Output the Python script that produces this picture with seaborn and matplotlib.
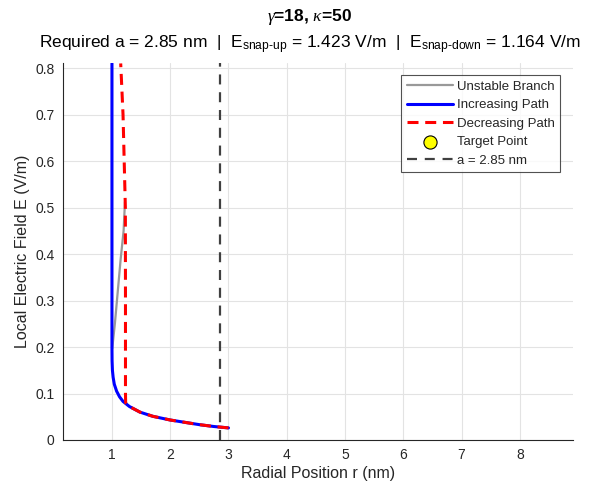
import matplotlib
matplotlib.use("Agg")
import matplotlib.pyplot as plt
import seaborn as sns
import pandas as pd

sns.set_theme(style="white")
plt.rcParams["font.family"] = ["Liberation Sans", "DejaVu Sans"]
plt.rcParams["mathtext.fontset"] = "custom"
plt.rcParams["mathtext.rm"] = "Liberation Sans"
plt.rcParams["mathtext.it"] = "Liberation Serif:italic"
plt.rcParams["mathtext.bf"] = "Liberation Sans:bold"

# Increasing field path (stable lower branch, then jump)
inc_r = [1.0, 1.0, 1.0, 1.002, 1.008, 1.02, 1.04, 1.08, 1.13, 1.19, 1.3, 1.48, 1.7, 2.0, 2.25, 2.5, 2.75, 3.0]
inc_E = [0.81, 0.5, 0.2, 0.17, 0.15, 0.135, 0.12, 0.105, 0.093, 0.083, 0.072, 0.060, 0.051, 0.043, 0.038, 0.033, 0.029, 0.026]

# Decreasing field path
dec_r = [3.0, 2.75, 2.5, 2.25, 2.0, 1.7, 1.48, 1.3, 1.235, 1.232, 1.232, 1.23, 1.21, 1.19, 1.15]
dec_E = [0.026, 0.029, 0.033, 0.038, 0.043, 0.051, 0.060, 0.072, 0.08, 0.1, 0.3, 0.5, 0.6, 0.7, 0.81]

# Unstable branch
uns_r = [1.005, 1.05, 1.10, 1.15, 1.20, 1.223]
uns_E = [0.197, 0.25, 0.32, 0.39, 0.45, 0.512]

# Required radius and target point
a_req = 2.85
target_r = [2.85]
target_E = [1.3]

xticks = [1, 2, 3, 4, 5, 6, 7, 8]
yticks = [0, 0.1, 0.2, 0.3, 0.4, 0.5, 0.6, 0.7, 0.8]

fig = plt.figure(figsize=(6.03, 4.92), dpi=100)
ax = fig.add_axes([0.1045, 0.1057, 0.8455, 0.7663])

dark = "#262626"

sns.lineplot(data=pd.DataFrame({"r": uns_r, "E": uns_E}), x="r", y="E", sort=False,
             estimator=None, ax=ax, color="#999999", lw=1.6, label="Unstable Branch")
sns.lineplot(data=pd.DataFrame({"r": inc_r, "E": inc_E}), x="r", y="E", sort=False,
             estimator=None, ax=ax, color="#0000ff", lw=2.2, label="Increasing Path")
sns.lineplot(data=pd.DataFrame({"r": dec_r, "E": dec_E}), x="r", y="E", sort=False,
             estimator=None, ax=ax, color="#ff0000", lw=2.2, label="Decreasing Path")
ax.lines[-1].set_linestyle((0, (3.6, 2.2)))
sns.scatterplot(x=target_r, y=target_E, ax=ax, s=90, color="#ffff00",
                edgecolor="black", linewidth=0.8, label="Target Point", zorder=5)
ax.axvline(a_req, color="#404040", lw=1.6, ls=(0, (4.5, 3.5)), label=f"a = {a_req} nm")

ax.set_xlim(0.16, 8.91)
ax.set_ylim(0, 0.811)
ax.set_xticks(xticks)
ax.set_xticklabels([str(t) for t in xticks])
ax.set_yticks(yticks)
ax.set_yticklabels(["0"] + [f"{t:.1f}" for t in yticks[1:]])
ax.grid(True, color="#e3e3e3", lw=0.8)
ax.set_axisbelow(True)

for side in ["top", "right"]:
    ax.spines[side].set_visible(False)
for side in ["left", "bottom"]:
    ax.spines[side].set_color(dark)
    ax.spines[side].set_linewidth(0.8)
ax.tick_params(direction="in", length=4, width=0.8, colors=dark, labelsize=10, pad=6)

ax.set_xlabel("Radial Position r (nm)", fontsize=11.5, color=dark, labelpad=3)
ax.set_ylabel("Local Electric Field E (V/m)", fontsize=11.5, color=dark, labelpad=4)

fig.text(0.514, 0.966, r"$\mathit{\gamma}$=18, $\mathit{\kappa}$=50", ha="center", va="center",
         fontsize=12.5, fontweight="bold", color="black")
fig.text(0.514, 0.908,
         r"Required a = 2.85 nm  |  E$_{\rm snap\text{-}up}$ = 1.423 V/m  |  E$_{\rm snap\text{-}down}$ = 1.164 V/m",
         ha="center", va="center", fontsize=12.5, color="black")

leg = ax.legend(loc="upper right", bbox_to_anchor=(0.9745, 0.968), fontsize=9.5,
                frameon=True, fancybox=False, edgecolor=dark, handlelength=3.5,
                handletextpad=0.3, borderpad=0.4, labelspacing=0.48, borderaxespad=0)
leg.get_frame().set_linewidth(0.8)

fig.savefig("out.png", dpi=100)
